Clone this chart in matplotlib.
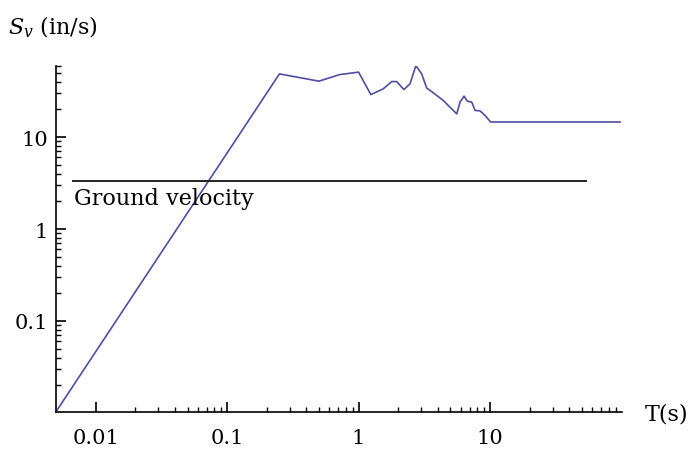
import numpy as np
import matplotlib
matplotlib.use('Agg')
import matplotlib.pyplot as plt
from matplotlib.ticker import FixedLocator, NullFormatter

plt.rcParams['font.family'] = 'DejaVu Serif'
plt.rcParams['mathtext.fontset'] = 'dejavuserif'

# spectral velocity vs period
period = [0.005, 0.25, 0.50, 0.72, 1.0, 1.24, 1.54, 1.79, 1.95, 2.21, 2.46, 2.73,
          3.02, 3.30, 3.60, 4.41, 5.58, 5.91, 6.34, 6.72, 7.26, 7.69, 8.39, 9.16,
          10.1, 97.5]
sv = [0.0103, 48.7, 40.6, 47.9, 50.9, 29.0, 33.5, 40.2, 40.2, 32.9, 37.9, 60.0,
      48.7, 34.1, 31.3, 25.0, 17.9, 24.0, 27.9, 24.6, 24.0, 19.5, 19.3, 17.2,
      14.6, 14.6]

ground_T = [0.0067, 54.0]
ground_v = [3.29, 3.29]

fig = plt.figure(figsize=(6.96, 4.56), dpi=100)
ax = fig.add_axes([0.0805, 0.095, 0.8125, 0.759])

ax.plot(period, sv, color='#4E4EA4', lw=1.2)
ax.plot(ground_T, ground_v, color='#222222', lw=1.4)
ax.text(0.0069, 2.9, 'Ground velocity', fontsize=16, va='top', ha='left')

ax.set_xscale('log')
ax.set_yscale('log')
ax.set_xlim(0.005, 100)
ax.set_ylim(0.0103, 60)

for s in ['top', 'right']:
    ax.spines[s].set_visible(False)
for s in ['left', 'bottom']:
    ax.spines[s].set_linewidth(1.2)

decades = [0.01, 0.1, 1, 10]
ax.xaxis.set_major_locator(FixedLocator(decades))
ax.xaxis.set_minor_locator(FixedLocator([d * k for d in decades for k in range(2, 10)]))
ax.set_xticklabels(['0.01', '0.1', '1', '10'])
ax.yaxis.set_major_locator(FixedLocator([0.1, 1, 10]))
ax.yaxis.set_minor_locator(FixedLocator([d * k for d in [0.01, 0.1, 1, 10] for k in range(2, 10)]))
ax.set_yticklabels(['0.1', '1', '10'])
ax.xaxis.set_minor_formatter(NullFormatter())
ax.yaxis.set_minor_formatter(NullFormatter())

ax.tick_params(which='major', direction='in', length=7, width=1.2, labelsize=15)
ax.tick_params(which='minor', direction='in', length=3.5, width=1.0)
ax.tick_params(axis='x', which='major', pad=12)
ax.tick_params(axis='y', which='major', pad=6)

fig.text(8 / 696, 1 - 27 / 456, r'$S_v$ (in/s)', fontsize=16, va='center', ha='left')
fig.text(645 / 696, 1 - 414 / 456, 'T(s)', fontsize=16, va='center', ha='left')

fig.savefig('out.png', dpi=100)
